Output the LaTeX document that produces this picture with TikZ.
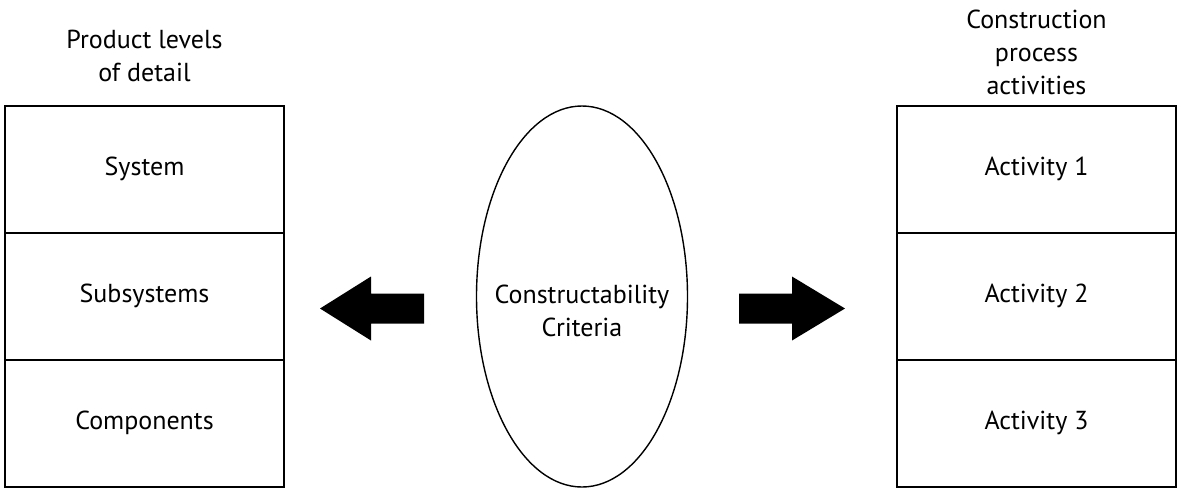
\documentclass[tikz,border=0pt]{standalone}
\usepackage{fontspec}
\setmainfont{PT Sans}
\usetikzlibrary{shapes.geometric}
\begin{document}
\begin{tikzpicture}[x=1pt,y=-1pt,
  lbl/.style={font=\fontsize{26}{33}\selectfont, align=center, inner sep=0pt},
  cell/.style={draw=black, line width=2pt, minimum width=279pt, minimum height=127pt, inner sep=0pt, font=\fontsize{26}{33}\selectfont},
  blk/.style={fill=black}]
\useasboundingbox (0,0) rectangle (1177,491);
% left column
\node[lbl] (lt) at (144.5,56) {Product levels\\of detail};
\node[cell] (l1) at (144.5,169) {System};
\node[cell] (l2) at (144.5,296) {Subsystems};
\node[cell] (l3) at (144.5,423) {Components};
% right column
\node[lbl] (rt) at (1036.5,52) {Construction\\process\\activities};
\node[cell] (r1) at (1036.5,169) {Activity 1};
\node[cell] (r2) at (1036.5,296) {Activity 2};
\node[cell] (r3) at (1036.5,423) {Activity 3};
% ellipse
\node[draw=black, line width=1.4pt, ellipse, minimum width=211pt, minimum height=381pt, inner sep=0pt] (ell) at (582,296.5) {};
\node[lbl] (crit) at (582,311) {Constructability\\Criteria};
% arrows
\coordinate (la) at (320,308.5);
\fill[blk] (la) -- ++(51,-32) -- ++(0,17) -- ++(53,0) -- ++(0,30) -- ++(-53,0) -- ++(0,17) -- cycle;
\coordinate (ra) at (845,308.5);
\fill[blk] (ra) -- ++(-53,-32) -- ++(0,17) -- ++(-53,0) -- ++(0,30) -- ++(53,0) -- ++(0,17) -- cycle;
\end{tikzpicture}
\end{document}
